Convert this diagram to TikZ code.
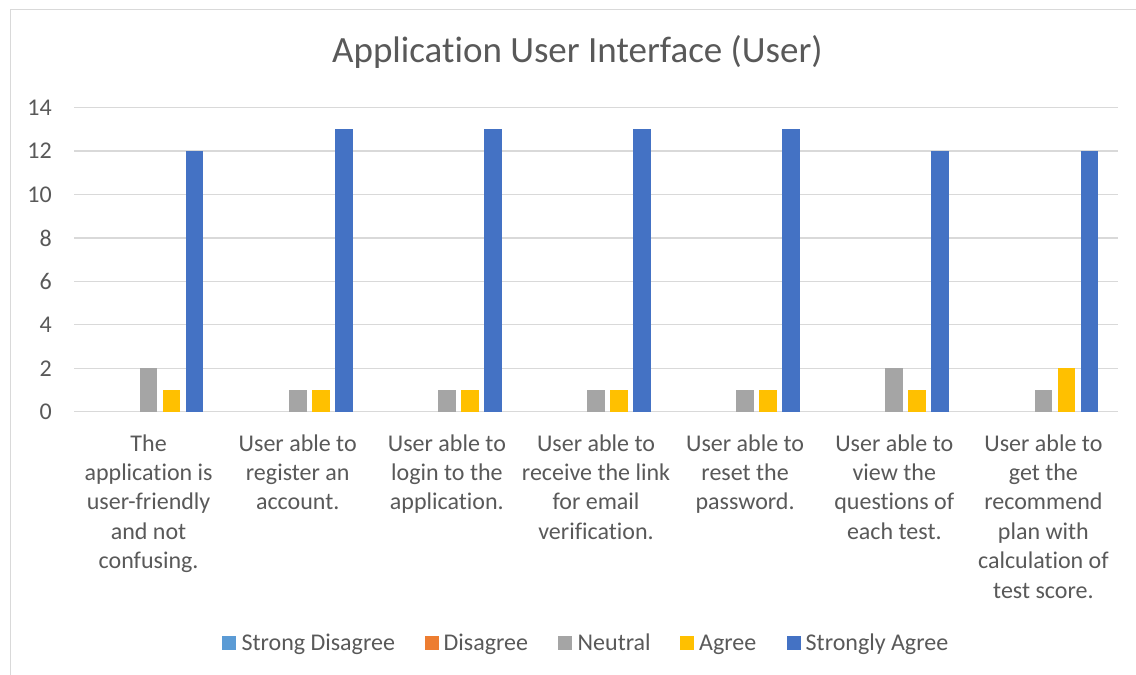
\documentclass[tikz,border=0pt]{standalone}
\usepackage{fontspec}
\setmainfont{Carlito}[Ligatures=NoCommon]
\definecolor{txt}{HTML}{595959}
\definecolor{gridc}{HTML}{D9D9D9}
\definecolor{sdis}{HTML}{5B9BD5}
\definecolor{dis}{HTML}{ED7D31}
\definecolor{neu}{HTML}{A5A5A5}
\definecolor{agr}{HTML}{FFC000}
\definecolor{sagr}{HTML}{4472C4}
\tikzset{
  gridline/.style={draw=gridc, line width=1.3pt},
  ticklabel/.style={text=txt, font=\fontsize{24}{29.4}\selectfont, inner sep=0pt},
  catlabel/.style={text=txt, font=\fontsize{24}{29.4}\selectfont, inner sep=0pt, align=center, anchor=base},
  legtext/.style={text=txt, font=\fontsize{24}{29.4}\selectfont, inner sep=0pt, anchor=base west},
}
\begin{document}
\begin{tikzpicture}[x=1pt,y=-1pt]
\useasboundingbox (0,0) rectangle (1136,675);
\fill[white] (0,0) rectangle (1136,675);
% chart frame
\draw[gridline] (10.5,675) -- (10.5,9.5) -- (1136,9.5);
% title
\node[anchor=base, text=txt, inner sep=0pt, font=\fontsize{37}{44}\selectfont] (title) at (577.4,62.7) {Application User Interface (User)};
% horizontal grid and value axis labels
\foreach \v in {0,2,...,14} {
  \draw[gridline] (74,{411.7-\v*21.714}) -- (1118,{411.7-\v*21.714});
  \node[ticklabel, anchor=east] (y\v) at (52,{411.7-\v*21.714}) {\v};
}
% bars: neutral / agree / strongly agree
\foreach \n/\a/\s [count=\i from 0] in {2/1/12,1/1/13,1/1/13,1/1/13,1/1/13,2/1/12,1/2/12} {
  \pgfmathsetmacro\cx{74+149.143*(\i+0.5)}
  \fill[neu]  ({\cx-8.8},411.7) rectangle ({\cx+8.8},{411.7-\n*21.714});
  \fill[agr]  ({\cx+23-8.8},411.7) rectangle ({\cx+23+8.8},{411.7-\a*21.714});
  \fill[sagr] ({\cx+46-8.8},411.7) rectangle ({\cx+46+8.8},{411.7-\s*21.714});
}
% category labels (anchored at the baseline of their last line)
\node[catlabel] (c1) at (148.6,568.6) {The\\application is\\user-friendly\\and not\\confusing.};
\node[catlabel] (c2) at (297.7,509.8) {User able to\\register an\\account.};
\node[catlabel] (c3) at (446.9,509.8) {User able to\\login to the\\application.};
\node[catlabel] (c4) at (596.0,539.2) {User able to\\receive the link\\for email\\verification.};
\node[catlabel] (c5) at (745.1,509.8) {User able to\\reset the\\password.};
\node[catlabel] (c6) at (894.3,539.2) {User able to\\view the\\questions of\\each test.};
\node[catlabel] (c7) at (1043.4,598.0) {User able to\\get the\\recommend\\plan with\\calculation of\\test score.};
% legend
\fill[sdis] (222,636) rectangle (236,650);
\node[legtext] (l1) at (241.4,650) {Strong Disagree};
\fill[dis] (425,636) rectangle (439,650);
\node[legtext] (l2) at (443.5,650) {Disagree};
\fill[neu] (558,636) rectangle (572,650);
\node[legtext] (l3) at (577.5,650) {Neutral};
\fill[agr] (680,636) rectangle (694,650);
\node[legtext] (l4) at (699,650) {Agree};
\fill[sagr] (787,636) rectangle (801,650);
\node[legtext] (l5) at (805.5,650) {Strongly Agree};
\end{tikzpicture}
\end{document}
